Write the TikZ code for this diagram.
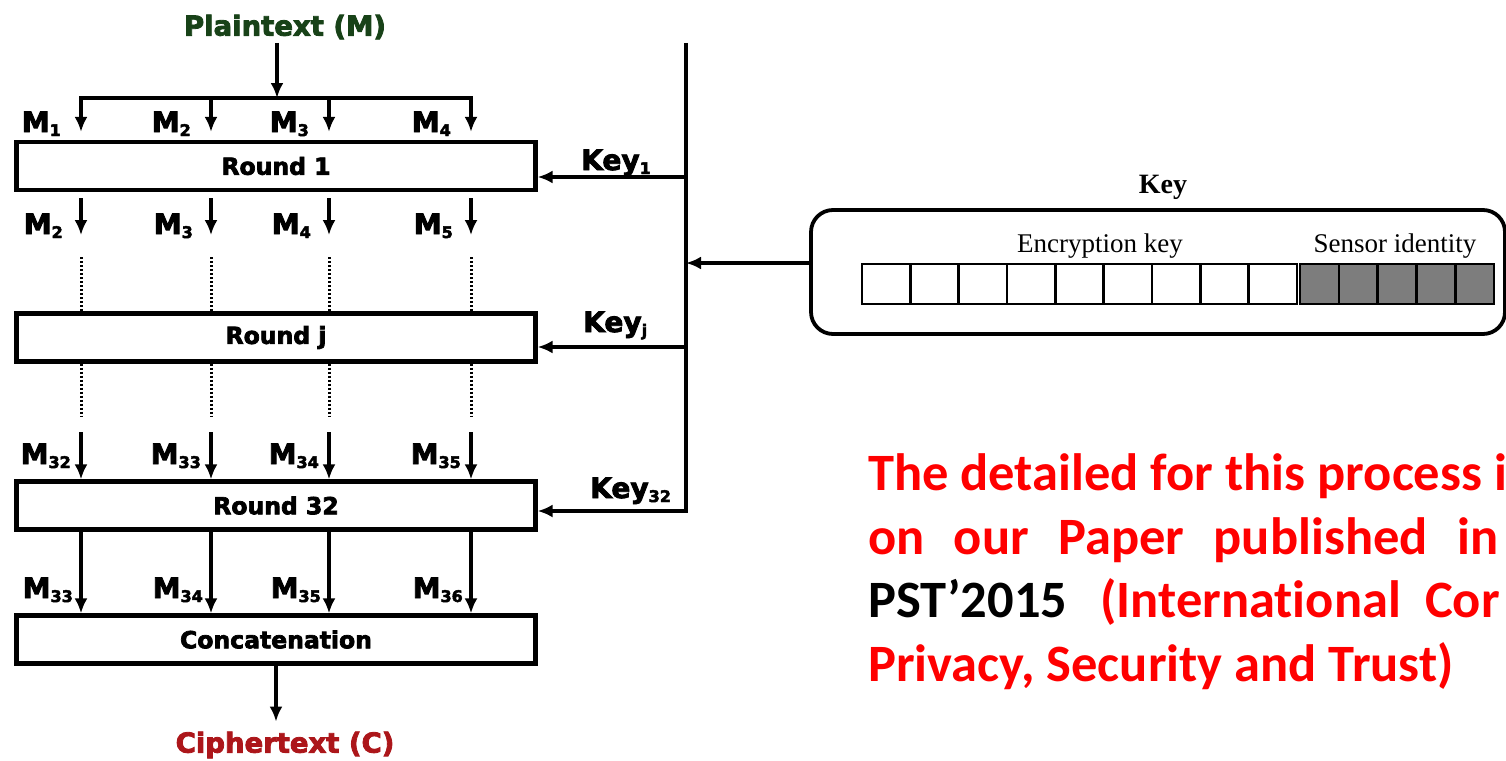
\documentclass[tikz,border=0pt]{standalone}
\usepackage{fontspec}
\setmainfont{DejaVu Sans}
\newfontfamily\heavy{DejaVu Sans Bold}[FakeBold=3]
\newfontfamily\notefont{Carlito}[Ligatures={NoCommon}]
\newfontfamily\keyfont{Liberation Serif}
\usetikzlibrary{arrows.meta,calc}

\definecolor{ptgreen}{RGB}{24,66,24}
\definecolor{ctred}{RGB}{172,22,26}
\definecolor{cellgray}{RGB}{125,125,125}
\definecolor{notered}{RGB}{255,0,0}

\newcommand{\fsz}[1]{\fontsize{#1}{#1}\selectfont}
\newcommand{\Msub}[1]{M\raisebox{-4pt}{\fsz{16}#1}}
\newcommand{\Ksub}[1]{Key\raisebox{-4pt}{\fsz{16}#1}}

\begin{document}
\begin{tikzpicture}[x=1pt,y=-1pt,
  roundbox/.style={draw,line width=4.2pt,minimum width=519pt,minimum height=48pt,
                   inner sep=0pt,font=\heavy\fsz{23.5}},
  arr/.style={line width=3.3pt,-{Latex[length=15pt,width=13pt]}},
  wire/.style={line width=3.3pt},
  dots/.style={line width=3pt,dash pattern=on 2.4pt off 1.6pt},
  mlab/.style={font=\heavy\fsz{28},anchor=base east,inner sep=0pt},
  klab/.style={font=\heavy\fsz{28},anchor=base west,inner sep=0pt},
  note/.style={font=\notefont\fsz{52.5}\bfseries,anchor=base west,inner sep=0pt,text=notered}]

\useasboundingbox (0,0) rectangle (1506,760);
\clip (0,0) rectangle (1506,760);

% ---- round structure ----
\node[font=\heavy\fsz{27.5},text=ptgreen] (pt) at (285,27) {Plaintext (M)};
\node[roundbox] (r1)  at (276,166)   {Round 1};
\node[roundbox] (rj)  at (276,337.5) {Round j};
\node[roundbox] (r32) at (276,505.5) {Round 32};
\node[roundbox] (cat) at (276,639.5) {Concatenation};
\node[font=\heavy\fsz{27.5},text=ctred] (cp) at (285,745) {Ciphertext (C)};

% block columns
\coordinate (c1) at (81,0);
\coordinate (c2) at (211,0);
\coordinate (c3) at (329,0);
\coordinate (c4) at (471,0);
\coordinate (sp) at (277,98);

% splitting the plaintext
\draw[arr] (pt.south -| sp) -- (sp);
\draw[wire,line cap=rect] (sp -| c1) -- (sp -| c4);
\foreach \c/\i in {c1/1,c2/2,c3/3,c4/4}{
  \draw[arr] (sp -| \c) -- ($(r1.north -| \c)+(0,-8)$);
  \node[mlab] (ma\i) at ($(\c |- 0,132)+(-20,0)$) {\Msub{\i}};
}

% after round 1
\foreach \c/\i/\k in {c1/2/1,c2/3/2,c3/4/3,c4/5/4}{
  \draw[arr] ($(r1.south -| \c)+(0,6)$) -- ($(r1.south -| \c)+(0,43)$);
  \node[mlab] (mb\k) at ($(\c |- 0,234)+(-18,0)$) {\Msub{\i}};
  \draw[dots] (\c |- 0,257) -- (rj.north -| \c);
  \draw[dots] (rj.south -| \c) -- (\c |- 0,417);
}

% into round 32
\foreach \c/\i/\k in {c1/32/1,c2/33/2,c3/34/3,c4/35/4}{
  \draw[arr] (\c |- 0,432) -- (r32.north -| \c);
  \node[mlab] (mc\k) at ($(\c |- 0,464)+(-10,0)$) {\Msub{\i}};
}

% into concatenation
\foreach \c/\i/\k in {c1/33/1,c2/34/2,c3/35/3,c4/36/4}{
  \draw[arr] (r32.south -| \c) -- (cat.north -| \c);
  \node[mlab] (md\k) at ($(\c |- 0,598)+(-8,0)$) {\Msub{\i}};
}

\draw[arr] (cat.south) -- ($(cat.south)+(0,56)$);

% ---- key schedule bus ----
\coordinate (bt) at (686,43);
\coordinate (bb) at (686,511);
\draw[wire] (bt) -- (bb);
\draw[arr] (bt |- 0,177) -- (r1.east |- 0,177);
\draw[arr] (bt |- 0,347) -- (rj.east |- 0,347);
\draw[arr,line join=miter] (bt |- 0,350) -- (bb) -- (r32.east |- bb);
\node[klab] (k1)  at (581,170) {\Ksub{1}};
\node[klab] (kj)  at (583,332) {\Ksub{j}};
\node[klab] (k32) at (590,498) {\Ksub{32}};

% ---- key layout ----
\node[draw,line width=3.8pt,rounded corners=22pt,minimum width=694pt,
      minimum height=124pt] (kb) at (1158,272) {};
\node[font=\keyfont\fsz{28}\bfseries,anchor=base,inner sep=0pt] (kt) at (1163,193) {Key};
\node[font=\keyfont\fsz{27},anchor=base,inner sep=0pt] (ek) at (1100,252) {Encryption key};
\node[font=\keyfont\fsz{27},anchor=base,inner sep=0pt] (si) at (1395,252) {Sensor identity};
\foreach \n in {0,...,8}
  \draw[line width=2.6pt,fill=white] ({862+48.33*\n},264) rectangle ({862+48.33*(\n+1)},304);
\foreach \n in {0,...,4}
  \draw[line width=2.6pt,fill=cellgray] ({1300+38.8*\n},264) rectangle ({1300+38.8*(\n+1)},304);
\draw[arr] (kb.west |- 0,263) -- (bt |- 0,263);

% ---- note ----
\node[note] (n1) at (868,490) {The detailed for this process i};
\node[note] (n2) at (868,554) {\makebox[630pt][s]{on our Paper published in}};
\node[note] (n3) at (868,617) {\textcolor{black}{PST’2015}\hspace*{33pt}(International\hspace*{24pt}Cor};
\node[note] (n4) at (868,681) {Privacy, Security and Trust)};
\end{tikzpicture}
\end{document}
